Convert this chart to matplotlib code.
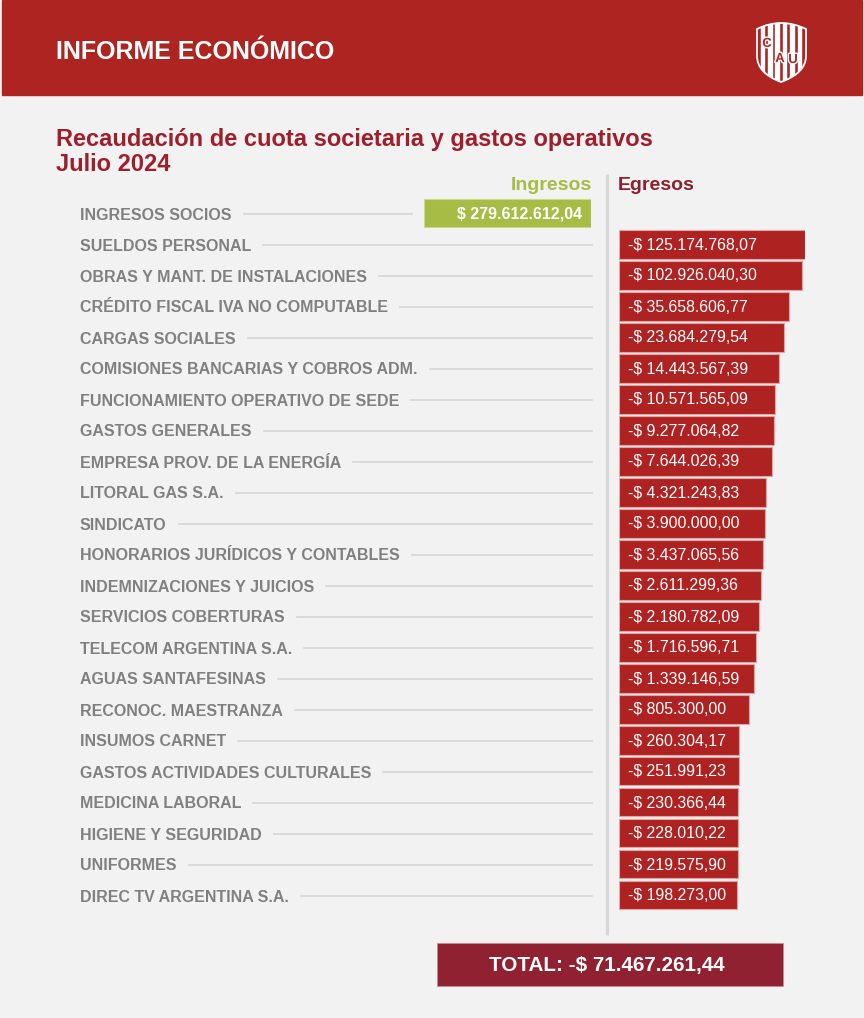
import numpy as np
import matplotlib
matplotlib.use("Agg")
import matplotlib.pyplot as plt
from matplotlib.patches import Rectangle, PathPatch
from matplotlib.path import Path
import matplotlib.patheffects as pe

# ---------------- data ----------------
header_title = "INFORME ECONÓMICO"
title_line1 = "Recaudación de cuota societaria y gastos operativos"
title_line2 = "Julio 2024"
income_heading = "Ingresos"
expense_heading = "Egresos"
income_label = "INGRESOS SOCIOS"
income_value = 279612612.04
expense_labels = [
    "SUELDOS PERSONAL",
    "OBRAS Y MANT. DE INSTALACIONES",
    "CRÉDITO FISCAL IVA NO COMPUTABLE",
    "CARGAS SOCIALES",
    "COMISIONES BANCARIAS Y COBROS ADM.",
    "FUNCIONAMIENTO OPERATIVO DE SEDE",
    "GASTOS GENERALES",
    "EMPRESA PROV. DE LA ENERGÍA",
    "LITORAL GAS S.A.",
    "SINDICATO",
    "HONORARIOS JURÍDICOS Y CONTABLES",
    "INDEMNIZACIONES Y JUICIOS",
    "SERVICIOS COBERTURAS",
    "TELECOM ARGENTINA S.A.",
    "AGUAS SANTAFESINAS",
    "RECONOC. MAESTRANZA",
    "INSUMOS CARNET",
    "GASTOS ACTIVIDADES CULTURALES",
    "MEDICINA LABORAL",
    "HIGIENE Y SEGURIDAD",
    "UNIFORMES",
    "DIREC TV ARGENTINA S.A.",
]
expense_values = [
    125174768.07, 102926040.30, 35658606.77, 23684279.54, 14443567.39,
    10571565.09, 9277064.82, 7644026.39, 4321243.83, 3900000.00,
    3437065.56, 2611299.36, 2180782.09, 1716596.71, 1339146.59,
    805300.00, 260304.17, 251991.23, 230366.44, 228010.22,
    219575.90, 198273.00,
]
total_value = -71467261.44
logo_letters = ["C", "A", "U"]


def fmt_ars(v):
    s = f"{abs(v):,.2f}".replace(",", "X").replace(".", ",").replace("X", ".")
    return ("-$ " if v < 0 else "$ ") + s


# ---------------- style ----------------
FONT = "Liberation Sans"
RED = "#AD2421"
BAR_RED = "#AE2222"
DARK_RED = "#8F2130"
TITLE_RED = "#9E1F2C"
GREEN = "#A6BC44"
GRAY_TXT = "#808080"
LINE_GRAY = "#D3D3D7"
BG = "#F2F2F2"

W, H = 864, 1018
fig = plt.figure(figsize=(W / 100, H / 100), dpi=100)
fig.patch.set_facecolor(BG)

bg = fig.add_axes([0, 0, 1, 1])
bg.set_xlim(0, W)
bg.set_ylim(H, 0)
bg.axis("off")


def fig_axes(x0, y0, x1, y1):
    return fig.add_axes([x0 / W, 1 - y1 / H, (x1 - x0) / W, (y1 - y0) / H])


# header
bg.add_patch(Rectangle((2, 0), W - 4, 95, color=RED, zorder=1))
bg.text(56, 52, header_title, color="white", fontsize=18, fontweight="bold",
        family=FONT, va="center", ha="left", zorder=3)

# logo (shield)
verts = [(757, 29), (781, 17), (806, 29), (806, 56), (806, 73), (781, 82),
         (757, 73), (757, 56), (757, 29)]
codes = [Path.MOVETO, Path.CURVE3, Path.CURVE3, Path.LINETO, Path.CURVE3,
         Path.CURVE3, Path.CURVE3, Path.CURVE3, Path.CLOSEPOLY]
shield = Path(verts, codes)
sp = PathPatch(shield, facecolor=RED, edgecolor="white", lw=1.3, zorder=3)
bg.add_patch(sp)
for k in range(6):
    r = Rectangle((760.5 + k * 7.4, 15), 3.7, 70, color="white", zorder=4)
    r.set_clip_path(sp)
    bg.add_patch(r)
for ch, (lx, ly) in zip(logo_letters, [(767, 44), (780, 59), (793, 60)]):
    bg.text(lx, ly, ch, color=RED, fontsize=9.5, fontweight="bold", family=FONT,
            ha="center", va="center", zorder=5,
            path_effects=[pe.withStroke(linewidth=2, foreground="white")])

# titles
bg.text(56, 139, title_line1, color=TITLE_RED, fontsize=17, fontweight="bold",
        family=FONT, va="center", ha="left")
bg.text(56, 164, title_line2, color=TITLE_RED, fontsize=17, fontweight="bold",
        family=FONT, va="center", ha="left")

bg.text(592, 185, income_heading, color=GREEN, fontsize=14, fontweight="bold",
        family=FONT, va="center", ha="right")
bg.text(618, 185, expense_heading, color="#8E1F2E", fontsize=14, fontweight="bold",
        family=FONT, va="center", ha="left")

# divider
bg.plot([607, 607], [174, 935], color="#D7D7DB", lw=2.3, solid_capstyle="butt", zorder=2)

# ---------------- expense bars ----------------
P = 0.0706
ROW0, ROWH = 244, 31
n = len(expense_values)
axe = fig_axes(619, ROW0 - ROWH / 2, 805, ROW0 + (n - 0.5) * ROWH)
axe.set_xscale("function", functions=(lambda v: np.power(np.clip(v, 0, None), P),
                                      lambda u: np.power(np.clip(u, 0, None), 1 / P)))
ypos = np.arange(n)
axe.barh(ypos, expense_values, height=29 / 31, color=BAR_RED, edgecolor="#E7A2A2",
         linewidth=0.8, zorder=2)
axe.set_xlim(0, max(expense_values))
axe.set_ylim(n - 0.5, -0.5)
axe.axis("off")
axe.patch.set_alpha(0)
for i, v in enumerate(expense_values):
    axe.annotate(fmt_ars(-v), xy=(0, i), xytext=(9, -1), textcoords="offset pixels",
                 color="white", fontsize=11.4, family=FONT, va="center", ha="left",
                 zorder=3, annotation_clip=False)

# ---------------- income bar ----------------
axi = fig_axes(424, 213 - 15.5, 591, 213 + 15.5)
axi.barh([0], [income_value], height=28 / 31, color=GREEN, edgecolor="#CBDA8C",
         linewidth=0.8)
axi.set_xlim(income_value, 0)
axi.set_ylim(-0.5, 0.5)
axi.axis("off")
axi.patch.set_alpha(0)
axi.annotate(fmt_ars(income_value), xy=(0, 0), xytext=(-9, -1), textcoords="offset pixels",
             color="white", fontsize=11.5, fontweight="bold", family=FONT,
             va="center", ha="right", annotation_clip=False)

# ---------------- row labels + leader lines ----------------
row_labels = [income_label] + expense_labels
row_y = [213] + [ROW0 + i * ROWH for i in range(n)]
line_end = [412] + [592] * n
texts = []
for lab, y in zip(row_labels, row_y):
    texts.append(bg.text(80, y + 2, lab, color=GRAY_TXT, fontsize=11.5, fontweight="bold",
                         family=FONT, va="center", ha="left"))
renderer = fig.canvas.get_renderer()
for t, y, xe in zip(texts, row_y, line_end):
    bb = t.get_window_extent(renderer)
    bg.plot([bb.x1 + 12, xe], [y + 1, y + 1], color=LINE_GRAY, lw=1.1, zorder=1)

# ---------------- total ----------------
bg.add_patch(Rectangle((437, 943), 346, 43, facecolor=DARK_RED, edgecolor="#C98A92",
                       lw=0.6, zorder=2))
bg.text(607, 965, "TOTAL: " + fmt_ars(total_value), color="white", fontsize=14.9,
        fontweight="bold", family=FONT, ha="center", va="center", zorder=3)

fig.savefig("out.png", dpi=100, facecolor=fig.get_facecolor())
